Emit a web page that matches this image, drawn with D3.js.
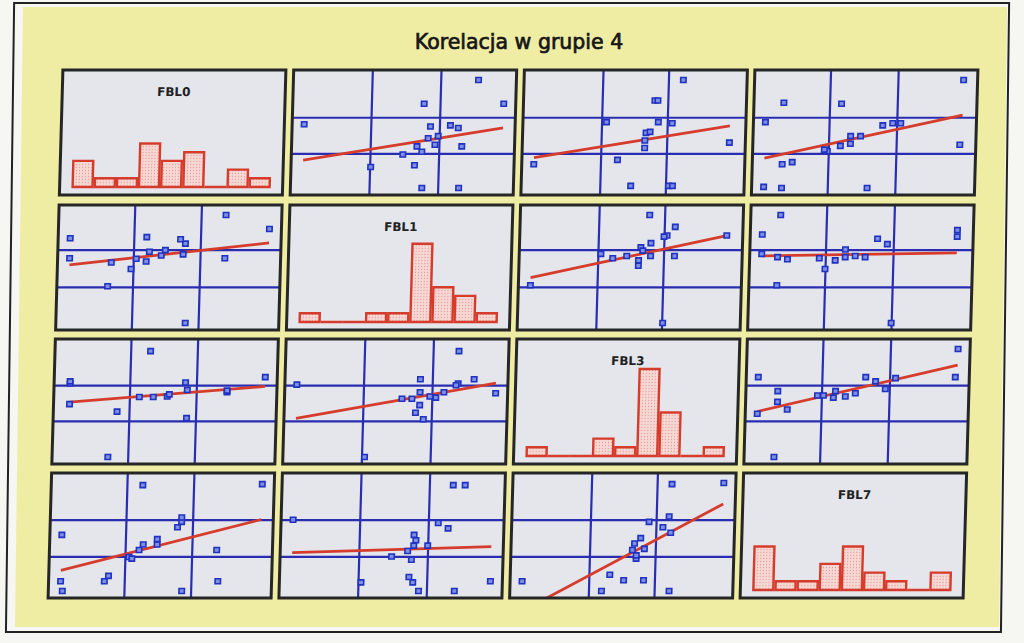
<!DOCTYPE html>
<html>
<head>
<meta charset="utf-8">
<script src="https://cdn.jsdelivr.net/npm/d3@7"></script>
<style>
  html, body { margin: 0; padding: 0; background: #f6f6f3; }
</style>
</head>
<body>
<svg id="chart" width="1024" height="643"></svg>
<script>

const title = 'Korelacja w grupie 4'
const variables = ['FBL0', 'FBL1', 'FBL3', 'FBL7']

// histogram counts, 9 bins per variable
const histFBL0 = [3, 1, 1, 5, 3, 4, 0, 2, 1]
const histFBL1 = [1, 0, 0, 1, 1, 9, 4, 3, 1]
const histFBL3 = [1, 0, 0, 2, 1, 10, 5, 0, 1]
const histFBL7 = [5, 1, 1, 3, 5, 2, 1, 0, 2]

// grid line positions (scaled 0..1 values)
const ticksFBL0 = [0.32, 0.655]
const ticksFBL1 = [0.335, 0.68]
const ticksFBL3 = [0.335, 0.665]
const ticksFBL7 = [0.32, 0.66]

// scatter pairs, [x, y] as seen above the diagonal (scaled 0..1 values)
const FBL1_FBL0 = [[0.87, 1.0], [0.60, 0.78], [1.0, 0.78], [0.0, 0.59], [0.635, 0.57], [0.735, 0.58],
  [0.775, 0.555], [0.625, 0.46], [0.675, 0.48], [0.66, 0.40], [0.57, 0.385], [0.795, 0.385],
  [0.50, 0.31], [0.595, 0.335], [0.34, 0.195], [0.56, 0.21], [0.60, 0.0], [0.785, 0.0]]
const FBL3_FBL0 = [[0.74, 1.0], [0.60, 0.81], [0.615, 0.81], [0.36, 0.61], [0.62, 0.61], [0.69, 0.60],
  [0.56, 0.51], [0.58, 0.52], [0.555, 0.44], [0.555, 0.37], [0.98, 0.42], [0.0, 0.22],
  [0.42, 0.26], [0.49, 0.02], [0.68, 0.02], [0.70, 0.02]]
const FBL7_FBL0 = [[0.99, 1.0], [0.09, 0.79], [0.38, 0.78], [0.0, 0.61], [0.59, 0.58], [0.64, 0.60],
  [0.68, 0.60], [0.43, 0.48], [0.48, 0.48], [0.43, 0.41], [0.38, 0.39], [0.315, 0.34],
  [0.30, 0.355], [0.98, 0.40], [0.09, 0.22], [0.14, 0.24], [0.0, 0.01], [0.09, 0.0], [0.52, 0.0]]
const FBL3_FBL1 = [[0.59, 1.0], [0.72, 0.89], [0.68, 0.81], [0.665, 0.80], [0.98, 0.81], [0.60, 0.74],
  [0.55, 0.70], [0.56, 0.67], [0.35, 0.64], [0.41, 0.60], [0.48, 0.62], [0.60, 0.62],
  [0.72, 0.62], [0.54, 0.58], [0.54, 0.53], [0.0, 0.35], [0.67, 0.0]]
const FBL7_FBL1 = [[0.09, 1.0], [0.98, 0.86], [0.98, 0.80], [0.0, 0.82], [0.58, 0.78], [0.63, 0.73],
  [0.42, 0.68], [0.0, 0.64], [0.08, 0.61], [0.13, 0.59], [0.29, 0.60], [0.37, 0.58],
  [0.42, 0.61], [0.47, 0.62], [0.52, 0.61], [0.32, 0.50], [0.08, 0.35], [0.66, 0.0]]
const FBL7_FBL3 = [[1.0, 1.0], [0.99, 0.74], [0.0, 0.74], [0.54, 0.74], [0.59, 0.70], [0.69, 0.73],
  [0.64, 0.63], [0.10, 0.61], [0.10, 0.51], [0.15, 0.44], [0.0, 0.40], [0.30, 0.57],
  [0.33, 0.57], [0.39, 0.61], [0.38, 0.55], [0.44, 0.56], [0.49, 0.59], [0.09, 0.0]]

const hists = { FBL0: histFBL0, FBL1: histFBL1, FBL3: histFBL3, FBL7: histFBL7 }
const ticks = { FBL0: ticksFBL0, FBL1: ticksFBL1, FBL3: ticksFBL3, FBL7: ticksFBL7 }
const pairs = {
  '0,1': FBL1_FBL0, '0,2': FBL3_FBL0, '0,3': FBL7_FBL0,
  '1,2': FBL3_FBL1, '1,3': FBL7_FBL1, '2,3': FBL7_FBL3
}

// layout
const W = 223
const H = 125
const colX = [55.5, 286.3, 517, 747.5]
const rowY = [70, 205, 339, 473]

const blue = '#2a2db0'
const red = '#d63c2c'

// the scan is slightly sheared, mimic that
const skew = (t, y0) => `translate(${t * y0},0) skewX(${-Math.atan(t) * 180 / Math.PI})`

const svg = d3.select('#chart')

const defs = svg.append('defs')
const pat = defs.append('pattern').attr('id', 'stipple')
  .attr('width', 3).attr('height', 3).attr('patternUnits', 'userSpaceOnUse')
pat.append('rect').attr('width', 3).attr('height', 3).attr('fill', '#f6d8d5')
pat.append('rect').attr('x', 1).attr('y', 1).attr('width', 1).attr('height', 1).attr('fill', '#dc7a72')

svg.append('rect').attr('width', 1024).attr('height', 643).attr('fill', '#f6f6f3')

const frame = svg.append('g').attr('transform', skew(0.013, 320))
frame.append('rect')
  .attr('x', 19).attr('y', 7).attr('width', 984).attr('height', 620)
  .attr('fill', '#efeca4')
frame.append('rect')
  .attr('x', 10).attr('y', 3).attr('width', 995).attr('height', 629)
  .attr('fill', 'none').attr('stroke', '#222').attr('stroke-width', 2)

svg.append('text')
  .attr('x', 519).attr('y', 48.5)
  .attr('text-anchor', 'middle')
  .attr('font-family', 'DejaVu Sans')
  .attr('font-size', 20.5)
  .attr('fill', '#161616')
  .attr('stroke', '#161616').attr('stroke-width', 0.7)
  .text(title)

const panels = svg.append('g').attr('transform', skew(0.028, 334))

function fit (pts) {
  const mx = d3.mean(pts, d => d[0])
  const my = d3.mean(pts, d => d[1])
  const sxy = d3.sum(pts, d => (d[0] - mx) * (d[1] - my))
  const sxx = d3.sum(pts, d => (d[0] - mx) ** 2)
  const b = sxy / sxx
  return x => my + b * (x - mx)
}

function drawHist (g, name) {
  const counts = hists[name]
  const x = d3.scaleBand().domain(d3.range(counts.length)).range([13, W - 13]).paddingInner(0.1)
  const y = d3.scaleLinear().domain([0, 10]).range([H - 8, H - 95])

  counts.forEach((c, k) => {
    if (c > 0) {
      g.append('rect')
        .attr('x', x(k)).attr('y', y(c))
        .attr('width', x.bandwidth()).attr('height', y(0) - y(c))
        .attr('fill', 'url(#stipple)')
        .attr('stroke', red).attr('stroke-width', 2.4)
    } else {
      const x0 = x(k) - x.step() * x.paddingInner() / 2
      g.append('line')
        .attr('x1', x0).attr('x2', x0 + x.step())
        .attr('y1', y(0)).attr('y2', y(0))
        .attr('stroke', red).attr('stroke-width', 2.4)
    }
  })

  g.append('text')
    .attr('x', W / 2).attr('y', 26)
    .attr('text-anchor', 'middle')
    .attr('font-family', 'DejaVu Sans')
    .attr('font-weight', 'bold')
    .attr('font-size', 12)
    .attr('fill', '#222')
    .text(name)
}

function drawScatter (g, i, j, clipId) {
  const data = i < j ? pairs[i + ',' + j] : pairs[j + ',' + i].map(d => [d[1], d[0]])
  const x = d3.scaleLinear().domain([0, 1]).range([12, W - 12])
  const y = d3.scaleLinear().domain([0, 1]).range([H - 7, 10])

  const gx = g.append('g').attr('transform', `translate(0,${H})`)
    .call(d3.axisBottom(x).tickValues(ticks[variables[j]]).tickSize(-H).tickFormat(''))
  const gy = g.append('g')
    .call(d3.axisLeft(y).tickValues(ticks[variables[i]]).tickSize(-W).tickFormat(''))
  for (const a of [gx, gy]) {
    a.select('.domain').remove()
    a.selectAll('line').attr('stroke', blue).attr('stroke-width', 2.2)
  }

  const f = fit(data)
  const [xmin, xmax] = d3.extent(data, d => d[0])
  g.append('line')
    .attr('clip-path', `url(#${clipId})`)
    .attr('x1', x(xmin)).attr('y1', y(f(xmin)))
    .attr('x2', x(xmax)).attr('y2', y(f(xmax)))
    .attr('stroke', red).attr('stroke-width', 2.8)

  g.selectAll('rect.pt').data(data).enter()
    .append('rect')
    .attr('class', 'pt')
    .attr('x', d => x(d[0]) - 2.7)
    .attr('y', d => y(d[1]) - 2.5)
    .attr('width', 5.4).attr('height', 5)
    .attr('fill', '#7f8fe6')
    .attr('stroke', '#1f32c0').attr('stroke-width', 1.6)
}

variables.forEach((rowVar, i) => {
  variables.forEach((colVar, j) => {
    const g = panels.append('g').attr('transform', `translate(${colX[j]},${rowY[i]})`)
    const clipId = `clip-${i}-${j}`
    g.append('clipPath').attr('id', clipId)
      .append('rect').attr('width', W).attr('height', H)
    g.append('rect').attr('width', W).attr('height', H).attr('fill', '#e4e6ec')
    if (i === j) drawHist(g, rowVar)
    else drawScatter(g, i, j, clipId)
    g.append('rect').attr('width', W).attr('height', H)
      .attr('fill', 'none').attr('stroke', '#262626').attr('stroke-width', 3)
  })
})

</script>
</body>
</html>
